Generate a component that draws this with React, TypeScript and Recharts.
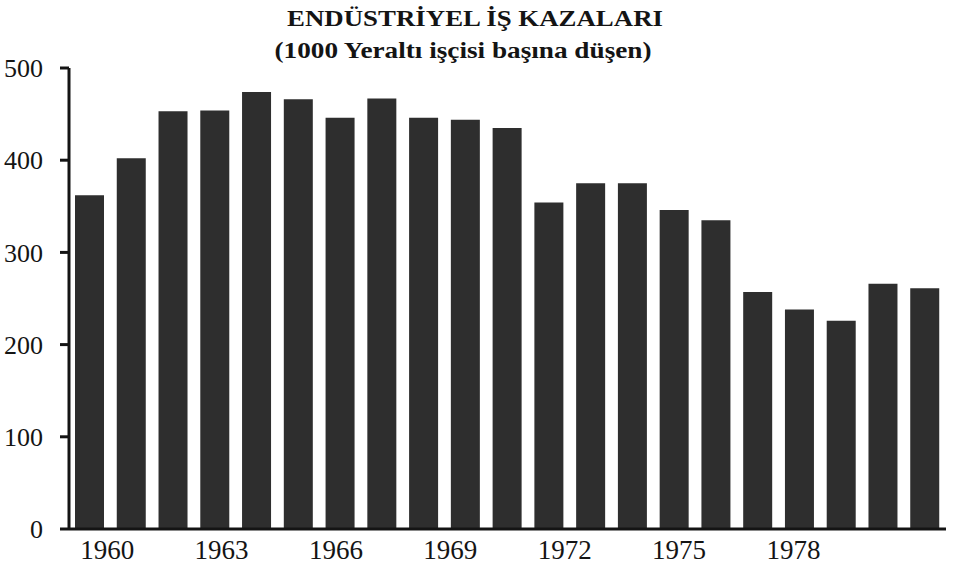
import { Bar, BarChart, XAxis, YAxis } from 'recharts';

const years = [
  1960, 1961, 1962, 1963, 1964, 1965, 1966, 1967, 1968, 1969, 1970,
  1971, 1972, 1973, 1974, 1975, 1976, 1977, 1978, 1979, 1980,
];
const accidents = [
  362, 402, 453, 454, 474, 466, 446, 467, 446, 444, 435,
  354, 375, 375, 346, 335, 257, 238, 226, 266, 261,
];
const yearTicks = [1960, 1963, 1966, 1969, 1972, 1975, 1978];
const valueTicks = [0, 100, 200, 300, 400, 500];

const title = 'ENDÜSTRİYEL İŞ KAZALARI';
const subtitle = '(1000 Yeraltı işçisi başına düşen)';

const INK = '#141414';
const FONT = '"Liberation Serif", "Times New Roman", serif';

export default function App() {
  const chartData = years.map((y, i) => ({ year: y, value: accidents[i] }));

  return (
    <div style={{ position: 'absolute', left: 0, top: 0, width: 956, height: 570, background: '#fff' }}>
      <BarChart
        width={956}
        height={570}
        data={chartData}
        margin={{ top: 68, right: 10, bottom: 0, left: 0 }}
        barSize={29}
      >
        <XAxis xAxisId="cat" dataKey="year" type="category" height={0} hide />
        {/* year labels in the scan drift from the bars, so they sit on their own numeric axis */}
        <XAxis
          xAxisId="yr"
          dataKey="year"
          type="number"
          scale="linear"
          domain={[1959, 1982]}
          allowDataOverflow
          ticks={yearTicks}
          interval={0}
          height={41}
          axisLine={{ stroke: INK, strokeWidth: 3 }}
          tickLine={false}
          tickSize={0}
          tickMargin={11}
          tick={{ fill: INK, fontSize: 27, fontFamily: FONT }}
        />
        <YAxis
          width={69}
          domain={[0, 500]}
          ticks={valueTicks}
          axisLine={{ stroke: INK, strokeWidth: 3 }}
          tickLine={{ stroke: INK, strokeWidth: 3 }}
          tickSize={9}
          tickMargin={17}
          tick={{ fill: INK, fontSize: 26, fontFamily: FONT }}
        />
        <Bar xAxisId="cat" dataKey="value" fill="#2e2e2e" isAnimationActive={false} />
      </BarChart>
      <svg
        width={956}
        height={80}
        style={{ position: 'absolute', left: 0, top: 0, pointerEvents: 'none' }}
      >
        <text
          x={475}
          y={26}
          textAnchor="middle"
          fontFamily={FONT}
          fontWeight="bold"
          fontSize={23}
          fill={INK}
          textLength={376}
          lengthAdjust="spacingAndGlyphs"
        >
          {title}
        </text>
        <text
          x={463}
          y={58}
          textAnchor="middle"
          fontFamily={FONT}
          fontWeight="bold"
          fontSize={23}
          fill={INK}
          textLength={377}
          lengthAdjust="spacingAndGlyphs"
        >
          {subtitle}
        </text>
      </svg>
    </div>
  );
}
